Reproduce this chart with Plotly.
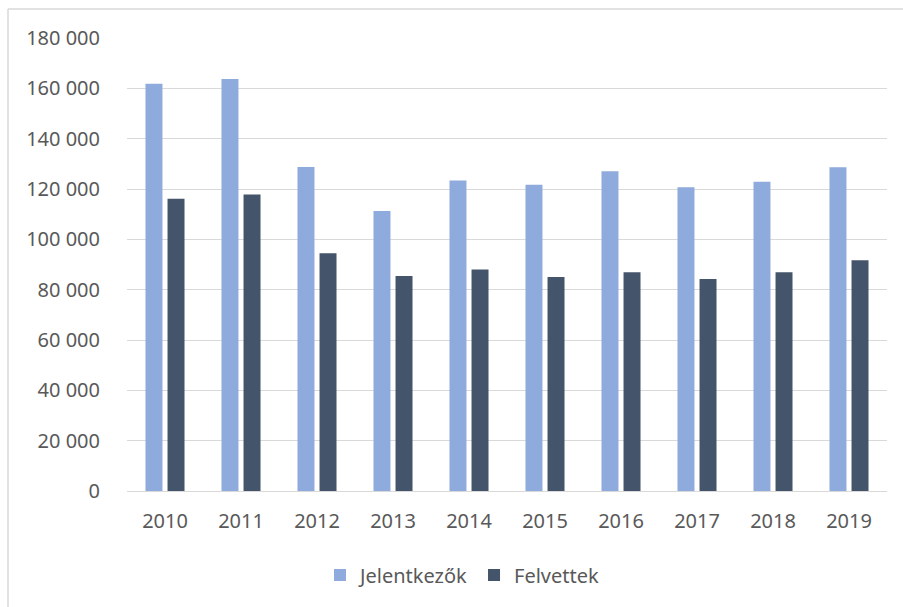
import plotly.graph_objects as go

# Applicants vs. admitted students per year
years = ["2010", "2011", "2012", "2013", "2014", "2015", "2016", "2017", "2018", "2019"]
jelentkezok = [161800, 163700, 128700, 111300, 123400, 121700, 127100, 120700, 122900, 128600]
felvettek = [116100, 117800, 94500, 85400, 88000, 85000, 86900, 84200, 86900, 91700]
y_ticks = [0, 20000, 40000, 60000, 80000, 100000, 120000, 140000, 160000, 180000]

W, H = 903, 607
L, R, T, B = 127, 16, 38, 116
pw, ph = W - L - R, H - T - B

def px_x(x):
    return (x - L) / pw

def px_y(y):
    return (H - B - y) / ph

font_family = "Noto Sans, Open Sans, sans-serif"
text_color = "#595959"
grid_color = "#d9d9d9"

fig = go.Figure()
fig.add_trace(go.Bar(x=years, y=jelentkezok, name="Jelentkezők",
                     marker=dict(color="#8faadc", line=dict(width=0))))
fig.add_trace(go.Bar(x=years, y=felvettek, name="Felvettek",
                     marker=dict(color="#44546a", line=dict(width=0))))

fig.update_layout(
    width=W, height=H,
    margin=dict(l=L, r=R, t=T, b=B, pad=0),
    paper_bgcolor="white", plot_bgcolor="white",
    separators=", ",
    barmode="group", bargap=0.42, bargroupgap=0.23,
    font=dict(family=font_family, size=20, color=text_color),
    showlegend=True,
    legend=dict(orientation="h", x=px_x(462), xanchor="center",
                y=px_y(575), yanchor="middle",
                font=dict(family=font_family, size=20, color=text_color),
                itemwidth=30, tracegroupgap=0),
    xaxis=dict(showgrid=False, showline=True, linecolor=grid_color, linewidth=1,
               ticks="outside", ticklen=12, tickcolor="rgba(0,0,0,0)",
               tickfont=dict(size=20, color=text_color)),
    yaxis=dict(range=[0, 180000], tickvals=y_ticks, tickformat=",d",
               showgrid=True, gridcolor=grid_color, gridwidth=1,
               zeroline=True, zerolinecolor=grid_color, zerolinewidth=1,
               showline=False,
               ticks="outside", ticklen=22, tickcolor="rgba(0,0,0,0)",
               tickfont=dict(size=20, color=text_color)),
    shapes=[
        dict(type="line", xref="paper", yref="paper",
             x0=px_x(8), x1=px_x(910), y0=px_y(9), y1=px_y(9),
             line=dict(color=grid_color, width=1.5)),
        dict(type="line", xref="paper", yref="paper",
             x0=px_x(8), x1=px_x(8), y0=px_y(9), y1=px_y(615),
             line=dict(color=grid_color, width=1.5)),
    ],
)

fig.write_html("out.html")
